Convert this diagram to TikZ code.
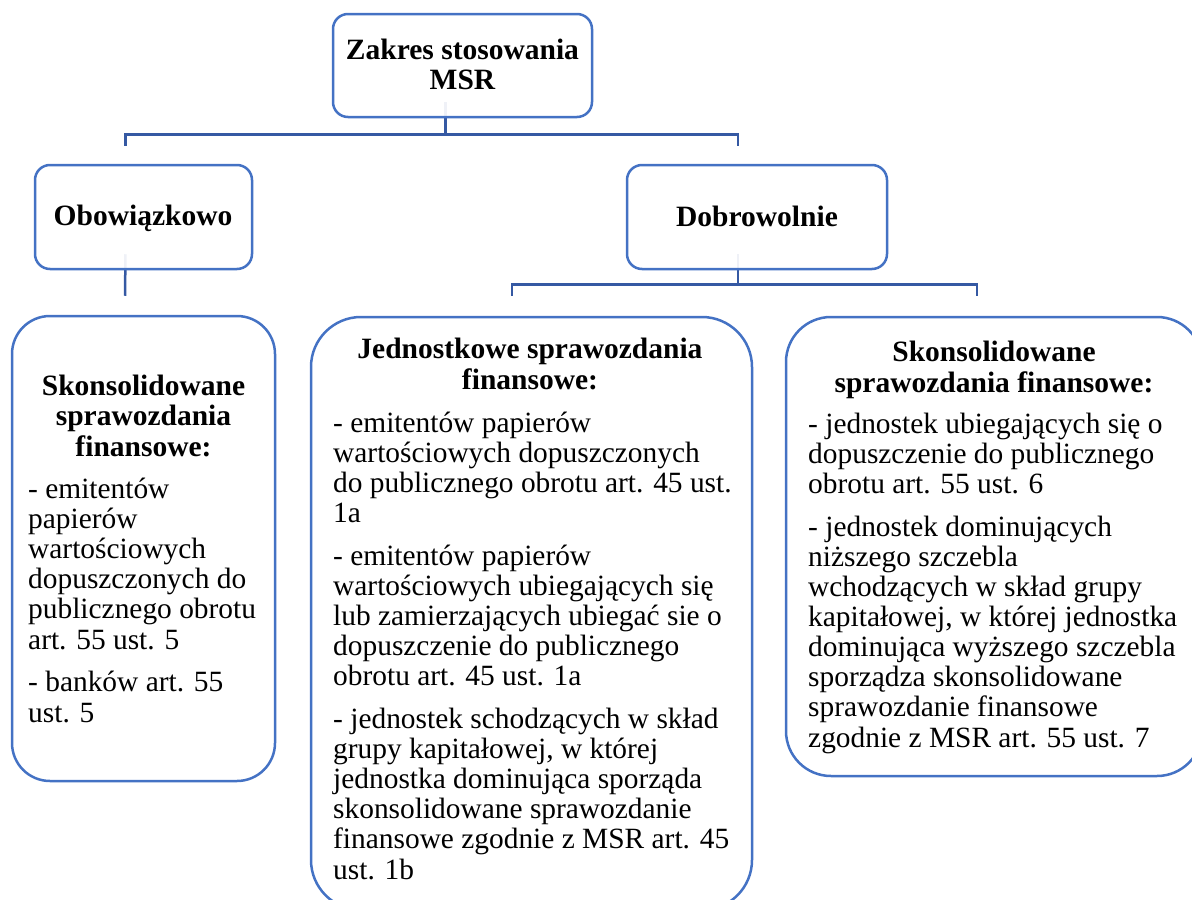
\documentclass[tikz,border=0pt]{standalone}
\usepackage{fontspec}
\setmainfont{Liberation Serif}
\usetikzlibrary{calc,backgrounds}
\definecolor{boxblue}{HTML}{4472C4}
\definecolor{linkblue}{HTML}{3559A3}
\begin{document}
\begin{tikzpicture}[x=1pt,y=-1pt,
  box/.style={draw=boxblue, line width=2.5pt, fill=white, fill opacity=0.92,
              rounded corners=#1, inner sep=0pt},
  box/.default=15pt,
  conn/.style={draw=linkblue, line width=2.5pt},
  % multi-line texts are placed by the baseline of their last line
  head/.style={font=\fontsize{29.5}{30.1}\selectfont\bfseries, align=center,
               anchor=base, inner sep=0pt},
  body/.style={font=\fontsize{29.4}{30.1}\selectfont, align=left,
               anchor=base west, inner sep=0pt}]
\useasboundingbox (0,0) rectangle (1192,900);

% boxes
\node[box, minimum width=259pt, minimum height=103pt] (top) at (462.5,65.5) {};
\node[box, minimum width=217pt, minimum height=104pt] (obow) at (143.5,217) {};
\node[box, minimum width=260pt, minimum height=104pt] (dobr) at (757,217) {};
\node[box=38pt, minimum width=263pt, minimum height=465pt] (lbox) at (143.5,548.5) {};
\node[box=50pt, minimum width=441pt, minimum height=593pt] (mbox) at (531.5,613.5) {};
\node[box=45pt, minimum width=416pt, minimum height=459pt] (rbox) at (994,546.5) {};

% connectors, behind the boxes
\coordinate (tin)  at ($(top.south)+(-17,-16)$);
\coordinate (tbus) at ($(top.south)+(-17,16)$);
\coordinate (oup)  at ($(obow.north)+(-18,-18)$);
\coordinate (dup)  at ($(dobr.north)+(-19,-18)$);
\coordinate (oin)  at ($(obow.south)+(-18,-16)$);
\coordinate (lup)  at ($(lbox.north)+(-18.5,-19)$);
\coordinate (din)  at ($(dobr.south)+(-19,-16)$);
\coordinate (dbus) at ($(dobr.south)+(-19,14)$);
\coordinate (mup)  at ($(mbox.north)+(-19.5,-20)$);
\coordinate (rup)  at ($(rbox.north)+(-17,-20)$);
\begin{pgfonlayer}{background}
  \draw[conn] (tin) -- (tbus);
  \draw[conn] (oup) |- (tbus) -| (dup);
  \draw[conn] (oin) -- (lup);
  \draw[conn] (din) -- (dbus);
  \draw[conn] (mup) |- (dbus) -| (rup);
\end{pgfonlayer}

% texts
\node[head] (ttop) at (462.5,89.5) {Zakres stosowania\\MSR};
\node[head] (tobow) at (143,225) {Obowiązkowo};
\node[head] (tdobr) at (757,226) {Dobrowolnie};

\node[head] (lhead) at (143.5,456) {Skonsolidowane\\sprawozdania\\finansowe:};
\node[body] (lbody) at (28,722) {- emitentów\\papierów\\wartościowych\\dopuszczonych do\\publicznego obrotu\\art. 55 ust. 5\\[12.8pt]- banków art. 55\\ust. 5};

\node[head] (mhead) at (530,389) {Jednostkowe sprawozdania\\finansowe:};
\node[body] (mbody) at (333,879) {- emitentów papierów\\wartościowych dopuszczonych\\do publicznego obrotu art. 45 ust.\\1a\\[12.8pt]- emitentów papierów\\wartościowych ubiegających się\\lub zamierzających ubiegać sie o\\dopuszczenie do publicznego\\obrotu art. 45 ust. 1a\\[12.8pt]- jednostek schodzących w skład\\grupy kapitałowej, w której\\jednostka dominująca sporząda\\skonsolidowane sprawozdanie\\finansowe zgodnie z MSR art. 45\\ust. 1b};

\node[head] (rhead) at (994,392) {Skonsolidowane\\sprawozdania finansowe:};
\node[body] (rbody) at (808,747) {- jednostek ubiegających się o\\dopuszczenie do publicznego\\obrotu art. 55 ust. 6\\[12.8pt]- jednostek dominujących\\niższego szczebla\\wchodzących w skład grupy\\kapitałowej, w której jednostka\\dominująca wyższego szczebla\\sporządza skonsolidowane\\sprawozdanie finansowe\\zgodnie z MSR art. 55 ust. 7};
\end{tikzpicture}
\end{document}
